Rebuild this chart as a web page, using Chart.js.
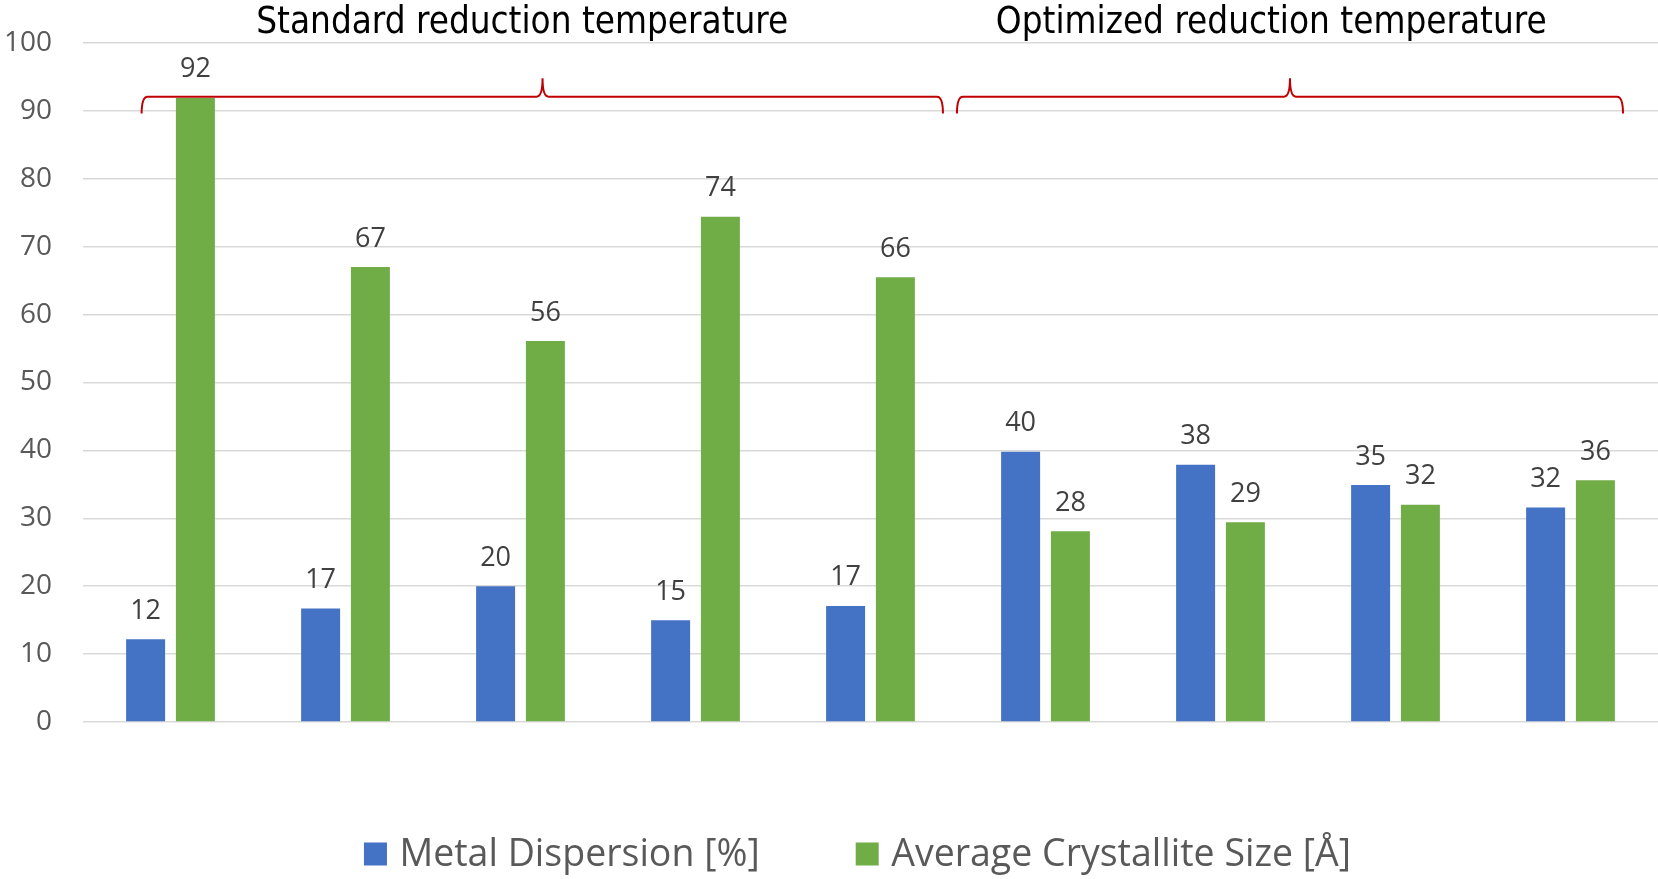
<!DOCTYPE html>
<html>
<head>
<meta charset="utf-8">
<title>Metal dispersion and crystallite size</title>
<script src="https://cdn.jsdelivr.net/npm/chart.js@4.4.1/dist/chart.umd.min.js"></script>
<style>
  html, body { margin: 0; padding: 0; background: #ffffff; }
  #wrap { width: 1658px; height: 879px; position: relative; }
</style>
</head>
<body>
<div id="wrap"><canvas id="chart" width="1658" height="879"></canvas></div>
<script>
// Samples (axis labels are not shown): five reduced at the standard
// temperature, four at the optimized temperature.
const categories = ['S1', 'S2', 'S3', 'S4', 'S5', 'O1', 'O2', 'O3', 'O4'];
const metalDispersion = [12.2, 16.7, 20.0, 15.0, 17.1, 39.8, 37.9, 34.9, 31.6];
const crystalliteSize = [91.9, 67.0, 56.1, 74.4, 65.5, 28.1, 29.4, 32.0, 35.6];
const seriesNames = ['Metal Dispersion [%]', 'Average Crystallite Size [Å]'];
const groupTitles = ['Standard reduction temperature', 'Optimized reduction temperature'];
const yMin = 0, yMax = 100, yStep = 10;

const COLORS = ['#4472C4', '#70AD47'];
const TEXT_FONT = '"Open Sans", "Liberation Sans", sans-serif';

// Brace placement per group, in category-index units on the x scale
// and value units on the y scale.
const braceLayout = [
  { from: -0.165, tip: 2.126, to: 4.414, titleAt: 2.01 },
  { from: 4.494, tip: 6.397, to: 8.30, titleAt: 6.29 }
];
const BRACE_LINE = 92.1, BRACE_END = 89.6, BRACE_TIP = 94.8;

// Value labels above each bar
const barValueLabels = {
  id: 'barValueLabels',
  afterDatasetsDraw(chart) {
    const ctx = chart.ctx;
    ctx.save();
    ctx.font = '27px ' + TEXT_FONT;
    ctx.fillStyle = '#404040';
    ctx.textAlign = 'center';
    ctx.textBaseline = 'alphabetic';
    chart.data.datasets.forEach((ds, di) => {
      const meta = chart.getDatasetMeta(di);
      meta.data.forEach((bar, i) => {
        ctx.fillText(String(Math.round(ds.data[i])), bar.x, bar.y - 20.5);
      });
    });
    ctx.restore();
  }
};

// Curly braces and titles grouping the two sets of samples
const groupBraces = {
  id: 'groupBraces',
  afterDraw(chart) {
    const ctx = chart.ctx;
    const xs = chart.scales.x, ys = chart.scales.y;
    const yl = ys.getPixelForValue(BRACE_LINE);
    const ye = ys.getPixelForValue(BRACE_END);
    const yt = ys.getPixelForValue(BRACE_TIP);
    const r = 6;
    ctx.save();
    braceLayout.forEach((g, gi) => {
      const x0 = xs.getPixelForValue(g.from);
      const xt = xs.getPixelForValue(g.tip);
      const x1 = xs.getPixelForValue(g.to);
      ctx.beginPath();
      ctx.moveTo(x0, ye);
      ctx.quadraticCurveTo(x0, yl, x0 + r, yl);
      ctx.lineTo(xt - r, yl);
      ctx.quadraticCurveTo(xt, yl, xt, yt);
      ctx.quadraticCurveTo(xt, yl, xt + r, yl);
      ctx.lineTo(x1 - r, yl);
      ctx.quadraticCurveTo(x1, yl, x1, ye);
      ctx.strokeStyle = '#C00000';
      ctx.lineWidth = 2;
      ctx.stroke();

      ctx.font = '36.5px "DejaVu Sans Condensed", "Liberation Sans", sans-serif';
      ctx.fillStyle = '#000000';
      ctx.textAlign = 'center';
      ctx.textBaseline = 'alphabetic';
      ctx.fillText(groupTitles[gi], xs.getPixelForValue(g.titleAt), 33);
    });
    ctx.restore();
  }
};

// Legend row under the plot
const bottomLegend = {
  id: 'bottomLegend',
  afterDraw(chart) {
    const ctx = chart.ctx;
    const box = 23, gap = 12.5, between = 96, centerX = 857.5, boxTop = 842.5, baseline = 866;
    ctx.save();
    ctx.font = '37.5px ' + TEXT_FONT;
    ctx.textBaseline = 'alphabetic';
    ctx.textAlign = 'left';
    const items = chart.data.datasets.map(ds => ({
      text: ds.label, color: ds.backgroundColor, w: ctx.measureText(ds.label).width
    }));
    const total = items.reduce((s, it) => s + box + gap + it.w, 0) + between * (items.length - 1);
    let x = centerX - total / 2;
    items.forEach(it => {
      ctx.fillStyle = it.color;
      ctx.fillRect(x, boxTop, box, box);
      ctx.fillStyle = '#595959';
      ctx.fillText(it.text, x + box + gap, baseline);
      x += box + gap + it.w + between;
    });
    ctx.restore();
  }
};

new Chart(document.getElementById('chart'), {
  type: 'bar',
  data: {
    labels: categories,
    datasets: [
      { label: seriesNames[0], data: metalDispersion, backgroundColor: COLORS[0] },
      { label: seriesNames[1], data: crystalliteSize, backgroundColor: COLORS[1] }
    ]
  },
  options: {
    responsive: false,
    animation: false,
    layout: { padding: { top: 43, right: 0, bottom: 157, left: 0 } },
    datasets: { bar: { categoryPercentage: 0.569, barPercentage: 0.783 } },
    plugins: {
      legend: { display: false },
      tooltip: { enabled: false },
      title: { display: false }
    },
    scales: {
      x: { type: 'category', display: false },
      y: {
        min: yMin,
        max: yMax,
        afterFit(scale) { scale.width = 83; },
        border: { display: false },
        grid: {
          color: '#d9d9d9',
          lineWidth: 1.5,
          drawTicks: true,
          tickLength: 31,
          tickColor: 'rgba(0,0,0,0)'
        },
        ticks: {
          stepSize: yStep,
          padding: 0,
          color: '#595959',
          font: { family: TEXT_FONT, size: 28 }
        }
      }
    }
  },
  plugins: [barValueLabels, groupBraces, bottomLegend]
});
</script>
</body>
</html>
